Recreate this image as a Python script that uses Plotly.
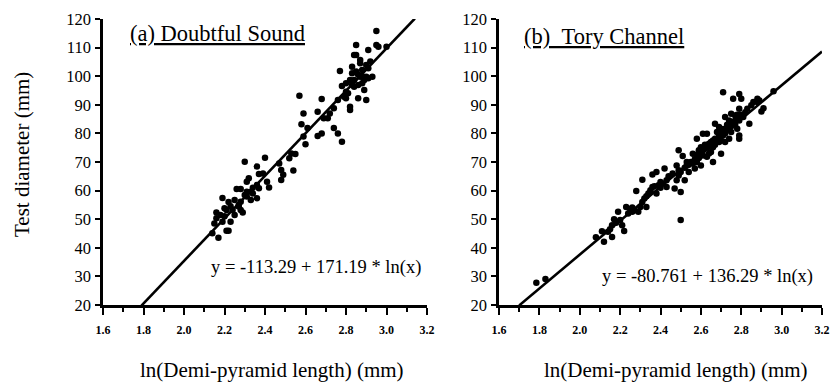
import math
import plotly.graph_objects as go

# ---------------- data ----------------
# (a) Doubtful Sound: ln(demi-pyramid length), test diameter (mm)
A_X = [2.14, 2.17, 2.16, 2.16, 2.19, 2.19, 2.21, 2.22, 2.20, 2.22, 2.23, 2.24, 2.25, 2.26, 2.28,
       2.27, 2.28, 2.29, 2.30, 2.31, 2.31, 2.32, 2.33, 2.33, 2.34, 2.36, 2.36, 2.36, 2.37, 2.37,
       2.39, 2.40, 2.42, 2.41, 2.18, 2.21, 2.25, 2.28, 2.31, 2.15, 2.20, 2.23, 2.27, 2.30, 2.34,
       2.47, 2.48, 2.48, 2.49, 2.52, 2.54, 2.55, 2.53, 2.57, 2.58, 2.59, 2.59, 2.60, 2.61,
       2.66, 2.66, 2.68, 2.68, 2.69, 2.71, 2.72, 2.74, 2.76, 2.78, 2.74, 2.76,
       2.77, 2.78, 2.79, 2.80, 2.80, 2.81, 2.82, 2.82, 2.80, 2.82, 2.83, 2.83, 2.84, 2.85, 2.85,
       2.84, 2.85, 2.86, 2.86, 2.87, 2.87, 2.87, 2.88, 2.88, 2.89, 2.90, 2.90, 2.90, 2.91, 2.91,
       2.92, 2.89, 2.84, 2.95, 2.95, 2.96, 3.00, 2.91, 2.93, 2.86, 2.88, 2.83]
A_Y = [45.1, 43.5, 52.3, 50.3, 57.4, 49.1, 46.0, 46.0, 53.8, 56.0, 49.1, 53.2, 51.5, 60.6, 60.6,
       54.4, 56.1, 52.3, 70.1, 57.9, 63.1, 64.3, 59.6, 56.7, 59.0, 57.3, 68.4, 62.0, 65.8, 60.8,
       66.0, 71.5, 61.1, 63.1, 51.5, 53.2, 56.7, 53.2, 59.6, 48.5, 51.0, 54.5, 55.0, 58.5, 61.0,
       69.5, 67.2, 63.7, 65.5, 71.3, 67.0, 72.8, 73.0, 93.2, 83.2, 78.9, 87.0, 76.2, 81.9,
       87.6, 79.1, 80.0, 92.0, 85.3, 85.3, 87.0, 81.9, 80.0, 77.1, 88.8, 91.7,
       101.8, 96.6, 92.8, 94.6, 92.3, 94.0, 89.3, 88.2, 97.5, 98.7, 101.0, 103.3, 107.4, 110.9, 107.4,
       98.7, 101.6, 96.9, 92.3, 104.5, 99.8, 105.7, 97.5, 102.2, 95.2, 91.7, 103.9, 99.8, 102.8, 109.2,
       105.1, 98.7, 96.3, 115.8, 110.9, 110.3, 110.3, 99.3, 99.8, 100.5, 100.0, 97.0]

# (b) Tory Channel
B_X = [1.785, 1.83, 2.08, 2.11, 2.12, 2.14, 2.16, 2.16, 2.17, 2.18, 2.19, 2.20, 2.21, 2.22, 2.23,
       2.26, 2.26, 2.27, 2.28, 2.29, 2.30, 2.31, 2.32, 2.33, 2.34, 2.35, 2.36, 2.36, 2.38, 2.38,
       2.39, 2.40, 2.41, 2.42, 2.43, 2.43, 2.47, 2.48, 2.48, 2.49, 2.49, 2.49, 2.50, 2.50, 2.51,
       2.52, 2.53, 2.54, 2.55, 2.56, 2.57, 2.58, 2.58, 2.59, 2.59, 2.60, 2.60, 2.61, 2.61, 2.62,
       2.63, 2.63, 2.64, 2.65, 2.66, 2.66, 2.67, 2.67, 2.68, 2.69, 2.69, 2.70, 2.71, 2.71, 2.72,
       2.72, 2.73, 2.74, 2.74, 2.75, 2.75, 2.76, 2.76, 2.77, 2.77, 2.78, 2.79, 2.79, 2.79, 2.79,
       2.80, 2.81, 2.82, 2.83, 2.84, 2.85, 2.86, 2.88, 2.88, 2.90, 2.91, 2.89, 2.96,
       2.56, 2.57, 2.58, 2.60, 2.61, 2.62, 2.63, 2.64, 2.65, 2.66, 2.67, 2.68, 2.69, 2.70, 2.70,
       2.71, 2.72, 2.73, 2.74, 2.75, 2.76, 2.77, 2.78, 2.78, 2.79, 2.80, 2.35, 2.37, 2.44, 2.46,
       2.50, 2.52, 2.53, 2.54, 2.40, 2.33, 2.31, 2.25, 2.24, 2.15]
B_Y = [27.8, 29.1, 43.7, 45.8, 42.1, 45.6, 43.8, 47.9, 50.0, 48.8, 52.6, 49.7, 47.9, 45.9, 54.3,
       52.6, 54.1, 53.1, 59.9, 52.6, 54.3, 63.8, 57.2, 54.3, 59.0, 60.1, 65.6, 61.3, 66.5, 59.0,
       61.9, 63.0, 62.4, 67.7, 61.3, 63.6, 60.7, 63.6, 68.8, 65.3, 74.1, 67.1, 49.7, 59.5, 72.1,
       63.6, 68.8, 66.5, 70.0, 72.9, 67.7, 70.0, 78.1, 71.4, 74.1, 68.8, 75.2, 79.9, 72.3, 74.7,
       71.8, 79.9, 76.4, 73.5, 70.0, 75.2, 78.1, 83.4, 80.5, 77.0, 82.2, 72.9, 94.4, 79.3, 85.7,
       77.0, 81.6, 78.1, 84.5, 80.5, 86.9, 83.4, 92.1, 86.3, 84.5, 81.6, 93.8, 88.6, 79.3, 78.1,
       92.1, 85.7, 87.4, 88.6, 83.4, 89.8, 91.0, 91.0, 92.1, 87.7, 88.8, 91.5, 94.7,
       69.5, 71.0, 72.5, 73.0, 74.0, 76.0, 75.0, 73.0, 77.0, 77.5, 76.0, 78.0, 79.5, 80.5, 77.5,
       81.5, 80.0, 83.0, 82.0, 82.5, 84.0, 83.0, 85.0, 86.5, 84.5, 86.5, 59.5, 61.5, 65.0, 66.0,
       66.5, 68.0, 70.0, 69.0, 61.0, 58.0, 56.0, 53.5, 52.0, 46.5]

# regression equations y = a + b * log10(L), drawn against ln(L)
A_COEF = (-113.29, 171.19)
B_COEF = (-80.761, 136.29)
A_LINE_X = [1.79, 3.14]
B_LINE_X = [1.70, 3.20]

A_TITLE = "(a) Doubtful Sound"
B_TITLE = "(b)\u00a0\u00a0Tory Channel"
A_EQ = "y = -113.29 + 171.19 * ln(x)"
B_EQ = "y = -80.761 + 136.29 * ln(x)"
X_TITLE = "ln(Demi-pyramid length) (mm)"
Y_TITLE = "Test diameter (mm)"
X_TICKS = [1.6, 1.8, 2.0, 2.2, 2.4, 2.6, 2.8, 3.0, 3.2]
Y_TICKS = [20, 30, 40, 50, 60, 70, 80, 90, 100, 110, 120]

# ---------------- figure ----------------
W, H = 832, 386
FONT = "Liberation Serif"

def line_y(coef, xs):
    a, b = coef
    return [a + b * x / math.log(10) for x in xs]

fig = go.Figure()
marker = dict(color="black", size=6.5, line=dict(width=0))
fig.add_trace(go.Scatter(x=A_X, y=A_Y, mode="markers", marker=marker, xaxis="x", yaxis="y"))
fig.add_trace(go.Scatter(x=A_LINE_X, y=line_y(A_COEF, A_LINE_X), mode="lines",
                         line=dict(color="black", width=2.6), xaxis="x", yaxis="y"))
fig.add_trace(go.Scatter(x=B_X, y=B_Y, mode="markers", marker=marker, xaxis="x2", yaxis="y2"))
fig.add_trace(go.Scatter(x=B_LINE_X, y=line_y(B_COEF, B_LINE_X), mode="lines",
                         line=dict(color="black", width=2.6), xaxis="x2", yaxis="y2"))

ydom = [1 - 305 / H, 1 - 19 / H]
xdom_a = [103 / W, 427 / W]
xdom_b = [499 / W, 822 / W]

xax = dict(range=[1.6, 3.2], tickvals=X_TICKS, ticktext=[f"{v:.1f}" for v in X_TICKS],
           showgrid=False, zeroline=False, showline=True, linecolor="black", linewidth=2.5,
           ticks="outside", ticklen=7, tickwidth=2, tickcolor="black", ticklabelstandoff=5,
           tickfont=dict(family=FONT, size=12, color="black", weight="bold"),
           minor=dict(dtick=0.1, tick0=1.6, ticks="outside", ticklen=4, tickwidth=2,
                      tickcolor="black", showgrid=False),
           automargin=False, fixedrange=True)
yax = dict(range=[20, 120], tickvals=Y_TICKS, showgrid=False, zeroline=False,
           showline=True, linecolor="black", linewidth=2.5, ticks="outside", ticklen=5,
           tickwidth=2, tickcolor="black", ticklabelstandoff=1,
           tickfont=dict(family=FONT, size=16.5, color="black"),
           automargin=False, fixedrange=True)

fig.update_layout(
    width=W, height=H, margin=dict(l=0, r=0, t=0, b=0, pad=0, autoexpand=False),
    paper_bgcolor="white", plot_bgcolor="white", showlegend=False,
    xaxis=dict(xax, domain=xdom_a, anchor="y"),
    yaxis=dict(yax, domain=ydom, anchor="x"),
    xaxis2=dict(xax, domain=xdom_b, anchor="y2"),
    yaxis2=dict(yax, domain=ydom, anchor="x2"),
)

def ann(text, x, y, size, xanchor="left", textangle=0):
    fig.add_annotation(text=text, x=x / W, y=1 - y / H, xref="paper", yref="paper",
                       xanchor=xanchor, yanchor="middle", showarrow=False, textangle=textangle,
                       font=dict(family=FONT, size=size, color="black"))

ann(f"<u>{A_TITLE}</u>", 128, 34, 22.5)
ann(f"<u>{B_TITLE}</u>", 522, 36, 22.5)
ann(A_EQ, 209, 267, 18.5)
fig.add_annotation(text=B_EQ, x=815 / W, y=1 - 276 / H, xref="paper", yref="paper",
                   xanchor="right", yanchor="middle", showarrow=False,
                   font=dict(family=FONT, size=18.5, color="black"))
ann(X_TITLE, 272, 370, 21, xanchor="center")
ann(X_TITLE, 676, 370, 21, xanchor="center")
ann(Y_TITLE, 22, 155, 21, xanchor="center", textangle=-90)

fig.write_html("out.html")
